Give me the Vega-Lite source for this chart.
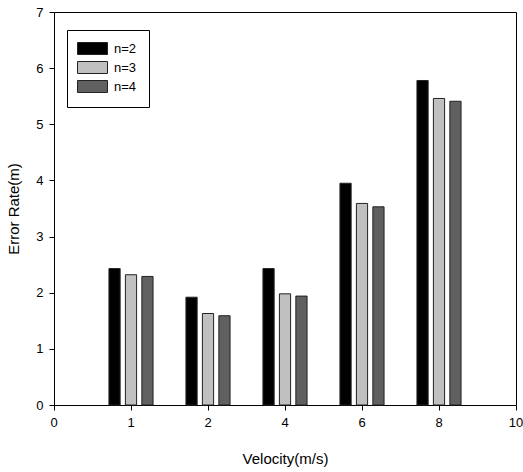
{
  "$schema": "https://vega.github.io/schema/vega-lite/v6.json",
  "width": 462,
  "height": 393,
  "autosize": "none",
  "padding": {"left": 54, "top": 12, "right": 7, "bottom": 67},
  "background": "white",
  "config": {
    "font": "Liberation Sans",
    "view": {"stroke": "#000", "strokeWidth": 1},
    "axis": {
      "grid": false,
      "domainColor": "#000",
      "tickColor": "#000",
      "labelColor": "#000",
      "titleColor": "#000",
      "labelFont": "Liberation Sans",
      "titleFont": "Liberation Sans",
      "labelFontSize": 13,
      "titleFontSize": 15,
      "titleFontWeight": "normal",
      "tickSize": 5
    }
  },
  "data": {
    "values": [
      {"v": "1", "n": "n=2", "err": 2.43},
      {"v": "1", "n": "n=3", "err": 2.32},
      {"v": "1", "n": "n=4", "err": 2.29},
      {"v": "2", "n": "n=2", "err": 1.92},
      {"v": "2", "n": "n=3", "err": 1.63},
      {"v": "2", "n": "n=4", "err": 1.59},
      {"v": "4", "n": "n=2", "err": 2.43},
      {"v": "4", "n": "n=3", "err": 1.98},
      {"v": "4", "n": "n=4", "err": 1.94},
      {"v": "6", "n": "n=2", "err": 3.95},
      {"v": "6", "n": "n=3", "err": 3.59},
      {"v": "6", "n": "n=4", "err": 3.53},
      {"v": "8", "n": "n=2", "err": 5.78},
      {"v": "8", "n": "n=3", "err": 5.46},
      {"v": "8", "n": "n=4", "err": 5.41}
    ]
  },
  "mark": {"type": "bar", "stroke": "#222", "strokeWidth": 1},
  "encoding": {
    "x": {
      "field": "v",
      "type": "ordinal",
      "sort": null,
      "scale": {"type": "band", "domain": ["0", "1", "2", "4", "6", "8", "10"], "range": [-38.5, 500.5], "paddingInner": 0, "paddingOuter": 0},
      "axis": {"title": "Velocity(m/s)", "labelAngle": 0, "labelPadding": 6, "titlePadding": 22, "domain": false}
    },
    "xOffset": {
      "field": "n",
      "type": "nominal",
      "scale": {"paddingInner": 0.32, "paddingOuter": 1.145}
    },
    "y": {
      "field": "err",
      "type": "quantitative",
      "scale": {"domain": [0, 7], "nice": false},
      "axis": {"title": "Error Rate(m)", "tickCount": 7, "labelPadding": 6, "titlePadding": 14}
    },
    "color": {
      "field": "n",
      "type": "nominal",
      "scale": {"domain": ["n=2", "n=3", "n=4"], "range": ["#000000", "#c0c0c0", "#606060"]},
      "legend": {
        "title": null,
        "orient": "none",
        "legendX": 13,
        "legendY": 18,
        "strokeColor": "#000",
        "fillColor": "white",
        "padding": 12,
        "symbolOffset": 7,
        "symbolType": "M-2.5,-1H2.5V1H-2.5Z",
        "symbolSize": 144,
        "symbolStrokeColor": "#222",
        "symbolStrokeWidth": 1,
        "labelFont": "Liberation Sans",
        "labelFontSize": 13,
        "labelColor": "#000",
        "rowPadding": 2,
        "labelOffset": 15
      }
    }
  }
}
